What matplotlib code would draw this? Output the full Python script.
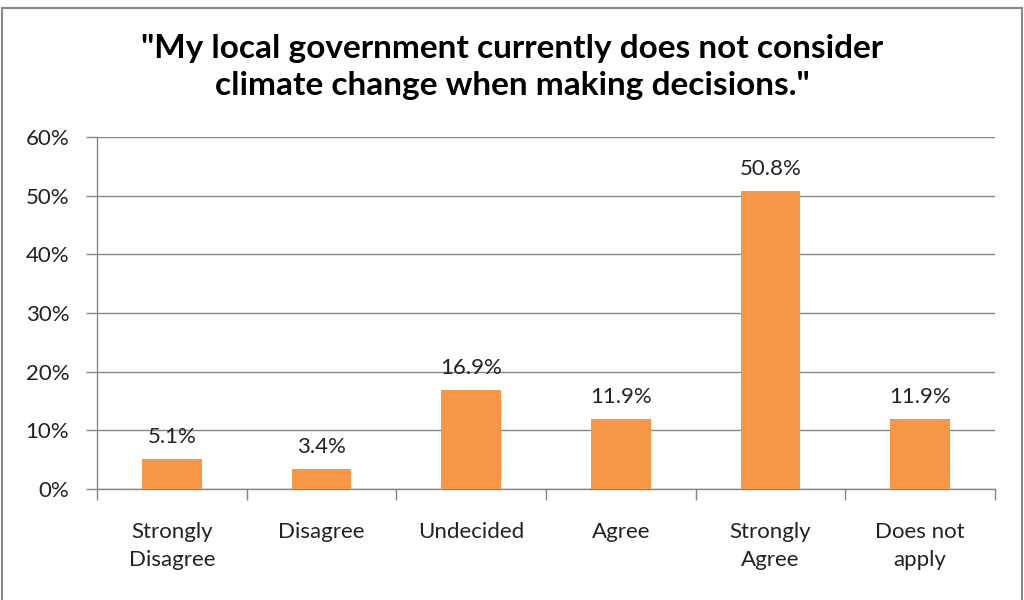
import matplotlib
matplotlib.use("Agg")
import matplotlib.pyplot as plt
from matplotlib.patches import Rectangle
from matplotlib.ticker import FixedLocator

categories = ["Strongly\nDisagree", "Disagree", "Undecided", "Agree", "Strongly\nAgree", "Does not\napply"]
values = [5.1, 3.4, 16.9, 11.9, 50.8, 11.9]
labels = ["5.1%", "3.4%", "16.9%", "11.9%", "50.8%", "11.9%"]
yticks = [0, 10, 20, 30, 40, 50, 60]
title = "\"My local government currently does not consider\nclimate change when making decisions.\""

plt.rcParams['font.family'] = ['Lato', 'DejaVu Sans']

fig = plt.figure(figsize=(10.24, 6), dpi=100)
ax = fig.add_axes([97/1024, 1 - 489/600, (995-97)/1024, (489-137)/600])

x = list(range(len(categories)))
ax.bar(x, values, width=0.4, color="#F79646", zorder=3)
for xi, v, lab in zip(x, values, labels):
    ax.text(xi, v + 2.0, lab, ha="center", va="bottom", fontsize=16, color="#222222")

ax.set_xlim(-0.5, len(categories) - 0.5)
ax.set_ylim(0, 60)
ax.set_yticks(yticks)
ax.set_yticklabels([f"{t}%" for t in yticks], fontsize=16, color="#222222")
ax.yaxis.grid(True, color="#868686", linewidth=1, zorder=0)
ax.set_xticks(x)
ax.set_xticklabels(categories, fontsize=16, color="#222222", linespacing=1.45)
ax.xaxis.set_minor_locator(FixedLocator([i - 0.5 for i in range(len(categories) + 1)]))
ax.tick_params(axis="x", which="major", length=0, pad=24)
ax.tick_params(axis="x", which="minor", length=8, color="#868686", width=1)
ax.tick_params(axis="y", length=8, color="#868686", width=1, pad=12)
for s in ["top", "right"]:
    ax.spines[s].set_visible(False)
for s in ["left", "bottom"]:
    ax.spines[s].set_color("#868686")
    ax.spines[s].set_linewidth(1)

fig.text(0.5, 1 - 67/600, title, ha="center", va="center", fontsize=24, fontweight="bold", linespacing=1.32)

fig.patches.append(Rectangle((2/1024, -0.01), 1 - 4/1024, 1 - 2/600, transform=fig.transFigure,
                             fill=False, edgecolor="#888888", linewidth=1.5))

fig.savefig("out.png", dpi=100)
